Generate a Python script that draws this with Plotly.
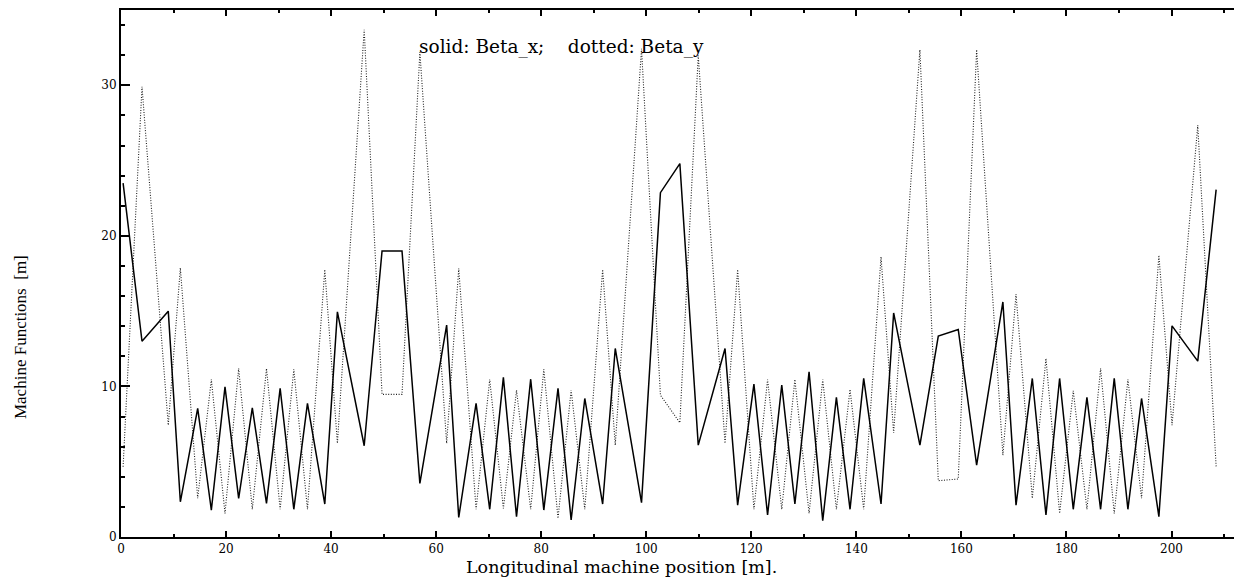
import plotly.graph_objects as go

# Longitudinal positions of the lattice points [m]
position = [0.4, 4.0, 9.0, 11.3, 14.6, 17.2, 19.8, 22.4, 25.0, 27.7, 30.3, 32.9, 35.5, 38.8,
            41.2, 46.3, 49.7, 53.5, 56.9, 62.0, 64.3, 67.6, 70.2, 72.8, 75.3, 78.0, 80.5, 83.2,
            85.7, 88.3, 91.7, 94.1, 99.1, 102.7, 106.4, 109.9, 115.0, 117.4, 120.5, 123.1,
            125.8, 128.3, 131.0, 133.6, 136.2, 138.8, 141.4, 144.7, 147.1, 152.1, 155.6, 159.4,
            162.9, 167.9, 170.4, 173.5, 176.1, 178.7, 181.3, 183.9, 186.5, 189.1, 191.7, 194.3,
            197.6, 200.1, 205.0, 208.5]

beta_x = [23.5, 13.0, 15.0, 2.34, 8.54, 1.79, 9.97, 2.57, 8.58, 2.23, 9.87, 1.84, 8.87, 2.19,
          14.95, 6.06, 19.0, 19.0, 3.56, 14.07, 1.3, 8.87, 1.84, 10.6, 1.35, 10.48, 1.79, 9.87,
          1.13, 9.2, 2.19, 12.52, 2.28, 22.87, 24.8, 6.1, 12.52, 2.12, 10.15, 1.46, 10.09, 2.19,
          10.97, 1.08, 9.27, 1.84, 10.53, 2.19, 14.88, 6.1, 13.34, 13.78, 4.78, 15.61, 2.12,
          10.53, 1.46, 10.53, 1.84, 9.27, 1.84, 10.53, 1.84, 9.2, 1.35, 14.02, 11.68, 23.07]

beta_y = [4.67, 29.9, 7.43, 17.87, 2.57, 10.46, 1.57, 11.19, 1.84, 11.19, 1.84, 11.13, 1.84, 17.76,
          6.22, 33.69, 9.47, 9.47, 32.2, 6.22, 17.83, 1.84, 10.46, 1.9, 9.75, 1.84, 11.13, 1.24,
          9.75, 1.84, 17.76, 6.1, 32.43, 9.42, 7.59, 31.98, 6.22, 17.76, 1.84, 10.46, 1.84, 10.46,
          1.57, 10.46, 1.84, 9.8, 1.84, 18.6, 6.92, 32.36, 3.74, 3.85, 32.36, 5.44, 16.12, 2.57,
          11.86, 1.57, 9.71, 1.84, 11.19, 1.57, 10.46, 2.57, 18.71, 7.43, 27.34, 4.67]

x_ticks = [0, 20, 40, 60, 80, 100, 120, 140, 160, 180, 200]
y_ticks = [0, 10, 20, 30]

fig = go.Figure()
fig.add_trace(go.Scatter(x=position, y=beta_y, mode="lines", name="Beta_y",
                         line=dict(color="#222222", width=1.1, dash="1px,1.6px")))
fig.add_trace(go.Scatter(x=position, y=beta_x, mode="lines", name="Beta_x",
                         line=dict(color="black", width=1.5)))

axis_font = dict(family="DejaVu Serif", size=12, color="black")
fig.update_layout(
    width=1234, height=577,
    margin=dict(l=121, r=0, t=10, b=40),
    paper_bgcolor="white", plot_bgcolor="white",
    showlegend=False,
    xaxis=dict(range=[0, 211.9], tickvals=x_ticks, ticktext=[str(v) for v in x_ticks],
               ticks="inside", ticklen=6, tickwidth=2, tickcolor="black",
               showline=True, linecolor="black", linewidth=2, mirror="ticks",
               showgrid=False, zeroline=False, tickfont=axis_font,
               minor=dict(dtick=10, tick0=0, ticks="inside", ticklen=3, tickwidth=2,
                          tickcolor="black")),
    yaxis=dict(range=[0, 35], tickvals=y_ticks, ticktext=[str(v) for v in y_ticks],
               ticks="inside", ticklen=9, tickwidth=2, tickcolor="black",
               showline=True, linecolor="black", linewidth=2, mirror=False,
               showgrid=False, zeroline=False, tickfont=axis_font,
               minor=dict(dtick=2, tick0=0, ticks="inside", ticklen=4, tickwidth=2,
                          tickcolor="black")),
    annotations=[
        dict(text="Longitudinal machine position [m].", xref="paper", yref="paper",
             x=0.450, y=-0.0565, xanchor="center", yanchor="middle", showarrow=False,
             font=dict(family="DejaVu Serif", size=17.5, color="black")),
        dict(text="Machine Functions  [m]", xref="paper", yref="paper",
             x=-0.0907, y=0.3795, xanchor="center", yanchor="middle", showarrow=False,
             textangle=-90, font=dict(family="Liberation Serif", size=17, color="black")),
        dict(text="solid: Beta_x;\u00a0\u00a0\u00a0\u00a0dotted: Beta_y", xref="paper", yref="paper",
             x=0.266, y=0.930, xanchor="left", yanchor="middle", showarrow=False,
             font=dict(family="DejaVu Serif", size=18.5, color="black")),
    ],
)

fig.write_html("out.html", config={"displayModeBar": False},
               post_script="document.body.style.margin='0';document.body.style.overflow='hidden';")
